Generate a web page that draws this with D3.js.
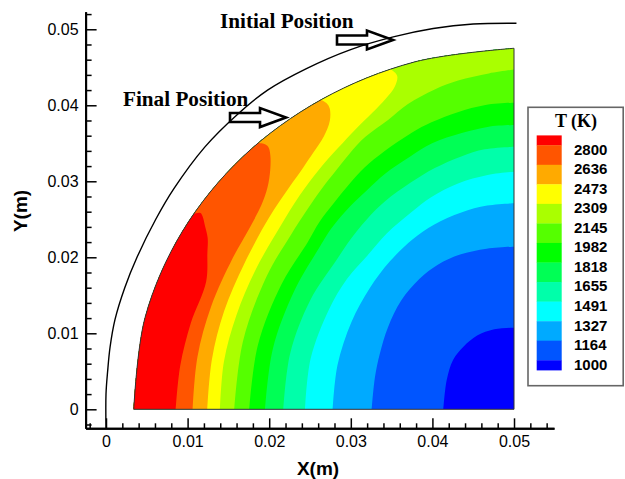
<!DOCTYPE html>
<html><head><meta charset="utf-8">
<script src="https://cdn.jsdelivr.net/npm/d3@7"></script>
<style>body{margin:0;background:#fff}svg{display:block}</style>
</head><body>
<svg id="chart" width="625" height="479"></svg>
<script>
// ---------- data ----------
const levels = [2800, 2636, 2473, 2309, 2145, 1982, 1818, 1655, 1491, 1327, 1164, 1000];
const bandColors = ["#FF0000","#FF5500","#FFAA00","#FFFF00","#AAFF00","#55FF00","#00FF00",
                    "#00FF55","#00FFAA","#00FFFF","#00AAFF","#0055FF","#0000FF"];
const xTicks = [0, 0.01, 0.02, 0.03, 0.04, 0.05];
const yTicks = [0, 0.01, 0.02, 0.03, 0.04, 0.05];
const diskCenter = [0.05, 0];
// final boundary: [angle (deg, from -x toward +y), radius (m)]
const surface = [[0,0.0466],[15,0.0468],[30,0.0469],[45,0.0470],[60,0.0471],[75,0.0473],[90,0.0475]];
// initial position curve: [x, y] (m)
const initialPosition = [[0.0000,-0.0025],[0.0000,0.0020],[0.0002,0.0050],[0.0005,0.0082],[0.0011,0.0118],
  [0.0023,0.0160],[0.0038,0.0200],[0.0061,0.0250],[0.0083,0.0290],[0.0121,0.0345],[0.0160,0.0387],
  [0.0198,0.0420],[0.0245,0.0448],[0.0299,0.0473],[0.0352,0.0490],[0.0401,0.0501],[0.0450,0.0507],[0.0503,0.0508]];
// contour lines, polar [angle deg, radius m] about the disk centre
const contour2800 = [[0,0.04146],[8,0.0413],[16,0.0412],[24,0.0413],[28.6,0.0428],[31,0.0438],[32.5,0.0449],[33.6,0.0458],[33.9,0.0463],[33.4,0.0468],[32.6,0.0473]];
const contour2636 = [[0,0.03938],[10,0.0394],[20,0.0395],[30,0.0398],[36,0.0402],[41,0.0410],[44,0.0420],[46.5,0.0434],[48.2,0.0448],[48.9,0.0458],[48.7,0.0465],[47.8,0.0473]];
const contour2473 = [[0,0.03759],[10,0.0376],[20,0.0378],[30,0.0382],[40,0.0392],[47,0.0402],[51,0.0410],[54,0.0418],[57,0.0428],[59.3,0.0442],[60.3,0.0456],[60.3,0.0464],[59.7,0.0473]];
const contour2309 = [[0,0.03603],[10,0.0361],[20,0.0362],[30,0.0366],[40,0.0374],[47,0.0385],[53,0.0396],[58,0.0406],[62,0.0416],[66,0.0427],[69,0.0438],[71,0.0449],[71.9,0.0460],[71.8,0.0466],[71.2,0.0474]];
const contour2145 = [[0,0.03428],[15,0.0344],[30,0.0350],[40,0.0357],[46,0.0365],[51,0.0374],[55,0.0382],[59,0.0392],[63,0.0402],[68,0.0411],[72,0.0422],[77,0.0432],[81,0.0438],[86,0.0443],[90,0.0447]];
const contour1982 = [[0,0.03244],[15,0.0325],[30,0.0329],[41,0.0335],[46,0.0343],[51,0.0350],[56,0.0359],[60,0.0367],[65,0.0375],[71,0.0385],[75,0.0391],[80,0.0397],[85,0.0402],[90,0.04034]];
const contour1818 = [[0,0.03051],[15,0.0306],[30,0.0311],[42,0.0320],[47,0.0327],[53,0.0334],[58,0.0340],[63,0.0348],[69,0.0356],[74,0.0364],[80,0.0369],[85,0.0373],[90,0.03741]];
const contour1655 = [[0,0.02827],[15,0.0284],[30,0.0288],[42,0.0293],[48,0.0300],[54,0.0308],[60,0.0316],[67,0.0324],[73,0.0332],[79,0.0339],[84,0.0344],[90,0.03455]];
const contour1491 = [[0,0.02561],[15,0.0258],[30,0.0262],[40,0.0267],[49,0.0271],[56,0.0279],[64,0.0288],[70,0.0297],[77,0.0305],[84,0.0310],[90,0.03126]];
const contour1327 = [[0,0.02222],[15,0.0224],[30,0.0230],[42,0.0238],[52,0.0247],[61,0.0256],[68,0.0262],[76,0.0267],[83,0.0270],[90,0.02711]];
const contour1164 = [[0,0.01744],[14,0.01756],[24,0.0180],[35,0.01885],[46,0.0199],[56,0.0207],[64,0.0212],[72,0.0214],[81,0.0214],[90,0.0214]];
const contour1000 = [[0,0.00866],[25,0.0091],[41,0.0099],[53,0.0103],[65,0.0107],[77,0.0108],[90,0.01074]];
const annotations = [
  {text:"Initial Position", tx:220, ty:28, tip:[0.03517,0.04859]},
  {text:"Final Position", tx:123, ty:106, tip:[0.02206,0.03839]}
];

// ---------- drawing ----------
const contours = [contour2800, contour2636, contour2473, contour2309, contour2145, contour1982,
                  contour1818, contour1655, contour1491, contour1327, contour1164, contour1000];
const svg = d3.select("#chart");
const x = d3.scaleLinear().domain([-0.0025, 0.0549]).range([85.6, 554]);
const y = d3.scaleLinear().domain([-0.0025, 0.0523]).range([428.3, 11.8]);
const rad = Math.PI / 180;
const toXY = p => [diskCenter[0] - p[1] * Math.cos(p[0] * rad), diskCenter[1] + p[1] * Math.sin(p[0] * rad)];
const line = d3.line().x(d => x(d[0])).y(d => y(d[1])).curve(d3.curveCatmullRom.alpha(0.5));
const P = p => x(p[0]).toFixed(2) + "," + y(p[1]).toFixed(2);

const diskPath = line(surface.map(toXY)) + "L" + P(diskCenter) + "Z";
svg.append("defs").append("clipPath").attr("id", "disk").append("path").attr("d", diskPath);

const field = svg.append("g").attr("clip-path", "url(#disk)");
field.append("path").attr("d", diskPath).attr("fill", bandColors[12]);

function regionPath(pts) {
  let d = line(pts.map(toXY));
  const endA = pts[pts.length - 1][0];
  const outer = [];
  for (let a = endA; a > 0; a -= 10) outer.push(toXY([a, 0.07]));
  outer.push(toXY([0, 0.07]));
  d += outer.map(p => "L" + P(p)).join("") + "Z";
  return d;
}
for (let i = levels.length - 1; i >= 0; i--) {
  field.append("path").attr("d", regionPath(contours[i])).attr("fill", bandColors[i]);
}
svg.append("path").attr("d", diskPath).attr("fill", "none").attr("stroke", "#333").attr("stroke-width", 1);

// initial position
svg.append("path").attr("d", d3.line().x(d => x(d[0])).y(d => y(d[1])).curve(d3.curveCatmullRom.alpha(0.5))(initialPosition))
  .attr("fill", "none").attr("stroke", "#000").attr("stroke-width", 1.4);

// axes
const minorX = d3.range(-0.002, 0.0545, 0.002).filter(v => Math.abs(v / 0.01 - Math.round(v / 0.01)) > 1e-6);
const minorY = d3.range(-0.002, 0.0525, 0.002).filter(v => Math.abs(v / 0.01 - Math.round(v / 0.01)) > 1e-6);
const fmt = d => d === 0 ? "0" : d3.format(".2f")(d);
const axStyle = g => {
  g.selectAll(".domain").attr("stroke", "#000").attr("stroke-width", 2);
  g.selectAll(".tick line").attr("stroke", "#000").attr("stroke-width", 1.5);
  g.selectAll("text").attr("font-family", "Liberation Sans, Arial, sans-serif").attr("font-size", 16).attr("fill", "#000");
};
svg.append("g").attr("transform", "translate(0,428.3)")
  .call(d3.axisBottom(x).tickValues(minorX).tickSize(-5).tickFormat("").tickSizeOuter(0)).call(axStyle);
svg.append("g").attr("transform", "translate(0,428.3)")
  .call(d3.axisBottom(x).tickValues(xTicks).tickSize(-10).tickPadding(7).tickFormat(fmt).tickSizeOuter(0)).call(axStyle);
svg.append("g").attr("transform", "translate(85.6,0)")
  .call(d3.axisLeft(y).tickValues(minorY).tickSize(-6).tickFormat("").tickSizeOuter(0)).call(axStyle);
svg.append("g").attr("transform", "translate(85.6,0)")
  .call(d3.axisLeft(y).tickValues(yTicks).tickSize(-11).tickPadding(7).tickFormat(fmt).tickSizeOuter(0)).call(axStyle);

svg.append("text").text("X(m)").attr("x", 318).attr("y", 475).attr("text-anchor", "middle")
  .attr("font-family", "Liberation Sans, Arial, sans-serif").attr("font-weight", "bold").attr("font-size", 19);
svg.append("text").text("Y(m)").attr("transform", "translate(27,211) rotate(-90)").attr("text-anchor", "middle")
  .attr("font-family", "Liberation Sans, Arial, sans-serif").attr("font-weight", "bold").attr("font-size", 19);

// annotations
annotations.forEach(a => {
  svg.append("text").text(a.text).attr("x", a.tx).attr("y", a.ty)
    .attr("font-family", "Liberation Serif, Times New Roman, serif").attr("font-weight", "bold").attr("font-size", 21.2);
  const tx = x(a.tip[0]), ty = y(a.tip[1]);
  const shape = [[-56,-4.5],[-26,-4.5],[-26,-9.5],[0,0],[-26,9.5],[-26,4.5],[-56,4.5]];
  svg.append("polygon").attr("points", shape.map(p => (tx + p[0]) + "," + (ty + p[1])).join(" "))
    .attr("fill", "none").attr("stroke", "#000").attr("stroke-width", 2.6).attr("stroke-linejoin", "miter");
});

// legend
const legendY = d3.scaleLinear().domain([2800, 1000]).range([145.2, 360.3]);
const step = legendY(levels[1]) - legendY(levels[0]);
svg.append("rect").attr("x", 528).attr("y", 107.3).attr("width", 95.2).attr("height", 278.4)
  .attr("fill", "#fff").attr("stroke", "#666").attr("stroke-width", 1.6);
svg.append("text").text("T (K)").attr("x", 576).attr("y", 126.5).attr("text-anchor", "middle")
  .attr("font-family", "Liberation Serif, Times New Roman, serif").attr("font-weight", "bold").attr("font-size", 18);
bandColors.forEach((c, i) => {
  const top = i === 0 ? legendY(levels[0]) - step / 2 : legendY(levels[i - 1]);
  const bot = i === levels.length ? legendY(levels[levels.length - 1]) + step / 2 : legendY(levels[i]);
  svg.append("rect").attr("x", 536.7).attr("y", top).attr("width", 25).attr("height", bot - top + 0.3).attr("fill", c);
});
levels.forEach(v => {
  svg.append("text").text(v).attr("x", 574).attr("y", legendY(v) + 9.3)
    .attr("font-family", "Liberation Sans, Arial, sans-serif").attr("font-weight", "bold").attr("font-size", 15);
});
</script>
</body></html>
